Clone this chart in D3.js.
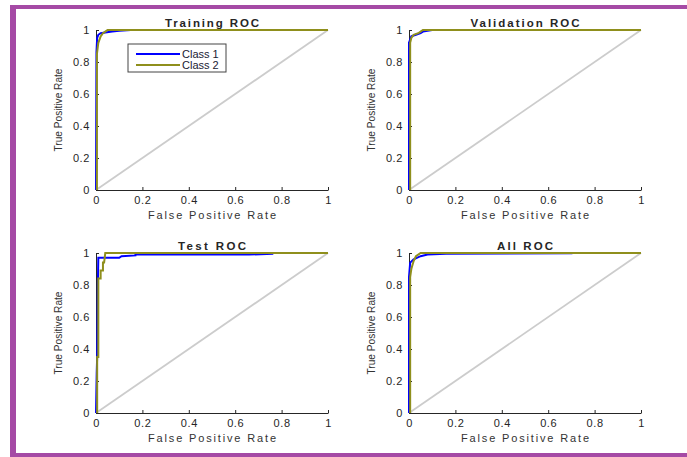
<!DOCTYPE html>
<html>
<head>
<meta charset="utf-8">
<script src="https://cdn.jsdelivr.net/npm/d3@7"></script>
<style>
  body { margin: 0; background: #fff; }
  text { font-family: "Liberation Sans", Arial, sans-serif; fill: #262626; }
</style>
</head>
<body>
<div id="chart"></div>
<script>
// ROC curves, [false positive rate, true positive rate]
var trainClass1 = [[0,0],[0.002,0.86],[0.005,0.95],[0.01,0.97],[0.02,0.98],[0.04,0.985],[0.07,0.99],[0.1,0.995],[0.15,1],[1,1]];
var trainClass2 = [[0.004,0],[0.004,0.85],[0.01,0.92],[0.02,0.96],[0.03,0.98],[0.04,0.99],[0.05,1],[1,1]];
var valClass1 = [[0,0],[0,0.92],[0.01,0.96],[0.03,0.97],[0.05,0.98],[0.06,0.99],[0.1,1],[1,1]];
var valClass2 = [[0.005,0],[0.005,0.92],[0.01,0.95],[0.02,0.97],[0.04,0.98],[0.05,0.99],[0.06,1],[1,1]];
var testClass1 = [[0,0],[0.003,0.25],[0.005,0.35],[0.008,0.8],[0.01,0.97],[0.1,0.97],[0.11,0.98],[0.17,0.985],[0.17,0.99],[0.66,0.99],[0.76,0.995],[0.76,1],[1,1]];
var testClass2 = [[0.005,0],[0.005,0.35],[0.01,0.35],[0.01,0.84],[0.02,0.84],[0.02,0.89],[0.03,0.89],[0.03,0.94],[0.035,0.94],[0.04,1],[1,1]];
var allClass1 = [[0,0],[0,0.85],[0.005,0.94],[0.02,0.96],[0.05,0.98],[0.08,0.99],[0.16,0.995],[0.7,0.998],[0.7,1],[1,1]];
var allClass2 = [[0.005,0],[0.005,0.85],[0.01,0.9],[0.02,0.95],[0.03,0.98],[0.05,1],[1,1]];

var classNames = ["Class 1", "Class 2"];
var classColors = ["#0000ff", "#8f8f1c"];
var ticks = [0, 0.2, 0.4, 0.6, 0.8, 1];

var panels = [
    {title: "Training ROC",   curves: [trainClass1, trainClass2], x0: 96,  y0: 30,  legend: true,  titleLen: 94},
    {title: "Validation ROC", curves: [valClass1, valClass2],     x0: 409, y0: 30,  legend: false, titleLen: 109},
    {title: "Test ROC",       curves: [testClass1, testClass2],   x0: 96,  y0: 253, legend: false, titleLen: 68},
    {title: "All ROC",        curves: [allClass1, allClass2],     x0: 409, y0: 253, legend: false, titleLen: 56}
];
var pw = 232, ph = 160;

var svg = d3.select("#chart").append("svg")
    .attr("width", 687)
    .attr("height", 457);

svg.append("rect").attr("width", 687).attr("height", 457).attr("fill", "#fff");

// purple frame
var purple = "#a54aa5";
svg.append("rect").attr("x", 10).attr("y", 5).attr("width", 677).attr("height", 4).attr("fill", purple);
svg.append("rect").attr("x", 10).attr("y", 5).attr("width", 6).attr("height", 452).attr("fill", purple);
svg.append("rect").attr("x", 10).attr("y", 453).attr("width", 677).attr("height", 4).attr("fill", purple);

panels.forEach(function(p) {
    var x = d3.scaleLinear().domain([0, 1]).range([0, pw]);
    var y = d3.scaleLinear().domain([0, 1]).range([ph, 0]);

    var g = svg.append("g").attr("transform", "translate(" + p.x0 + "," + p.y0 + ")");

    // diagonal reference
    g.append("line")
        .attr("x1", x(0)).attr("y1", y(0))
        .attr("x2", x(1)).attr("y2", y(1))
        .attr("stroke", "#cccccc")
        .attr("stroke-width", 1.8);

    var xAxis = g.append("g")
        .attr("transform", "translate(0," + ph + ")")
        .call(d3.axisBottom(x).tickValues(ticks).tickFormat(d3.format("")).tickSizeInner(-3).tickSizeOuter(0).tickPadding(4));
    var yAxis = g.append("g")
        .call(d3.axisLeft(y).tickValues(ticks).tickFormat(d3.format("")).tickSizeInner(-3).tickSizeOuter(0).tickPadding(6));

    [xAxis, yAxis].forEach(function(a) {
        a.select(".domain").attr("stroke", "#262626");
        a.selectAll(".tick line").attr("stroke", "#262626");
        a.selectAll(".tick text")
            .attr("fill", "#262626")
            .style("font-size", "11px")
            .style("letter-spacing", "0.6px")
            .style("font-family", "'Liberation Sans', Arial, sans-serif");
    });
    xAxis.selectAll(".tick text").attr("dy", "0.9em");

    var line = d3.line()
        .x(function(d) { return x(d[0]); })
        .y(function(d) { return y(d[1]); });

    p.curves.forEach(function(c, i) {
        g.append("path")
            .datum(c)
            .attr("d", line)
            .attr("fill", "none")
            .attr("stroke", classColors[i])
            .attr("stroke-width", 2);
    });

    g.append("text")
        .attr("x", pw / 2).attr("y", -3)
        .attr("text-anchor", "middle")
        .attr("textLength", p.titleLen)
        .attr("lengthAdjust", "spacing")
        .style("font-size", "11.5px")
        .style("font-weight", "bold")
        .text(p.title);

    g.append("text")
        .attr("x", pw / 2).attr("y", ph + 29)
        .attr("text-anchor", "middle")
        .attr("textLength", 128)
        .attr("lengthAdjust", "spacing")
        .style("font-size", "11px")
        .style("fill", "#333")
        .text("False Positive Rate");

    g.append("text")
        .attr("transform", "translate(-34," + (ph / 2) + ") rotate(-90)")
        .attr("text-anchor", "middle")
        .attr("textLength", 83)
        .attr("lengthAdjust", "spacingAndGlyphs")
        .style("font-size", "11px")
        .style("fill", "#333")
        .text("True Positive Rate");

    if (p.legend) {
        var lg = g.append("g").attr("transform", "translate(" + (128 - p.x0) + "," + (44 - p.y0) + ")");
        lg.append("rect")
            .attr("width", 98).attr("height", 28)
            .attr("fill", "#fff")
            .attr("stroke", "#444")
            .attr("stroke-width", 1);
        classNames.forEach(function(name, i) {
            var ly = 10 + i * 11;
            lg.append("line")
                .attr("x1", 8).attr("x2", 52)
                .attr("y1", ly).attr("y2", ly)
                .attr("stroke", classColors[i])
                .attr("stroke-width", 2);
            lg.append("text")
                .attr("x", 54).attr("y", ly + 4)
                .style("font-size", "11px")
                .style("fill", "#1a1a33")
                .text(name);
        });
    }
});
</script>
</body>
</html>
